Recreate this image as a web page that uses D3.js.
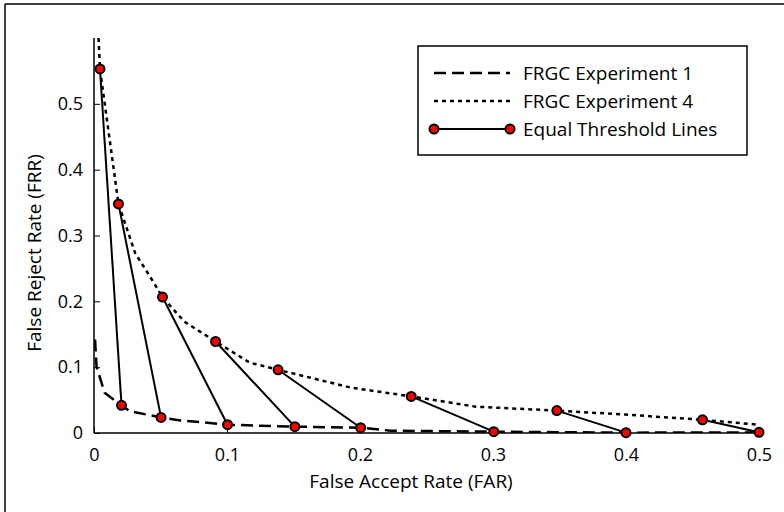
<!DOCTYPE html>
<html>
<head>
<meta charset="utf-8">
<script src="https://cdn.jsdelivr.net/npm/d3@7"></script>
<style>
  body { margin: 0; background: #fff; }
  text { font-family: "Open Sans", sans-serif; fill: #000; }
</style>
</head>
<body>
<script>
// FRGC Experiment 1 (dashed curve): [FAR, FRR]
const exp1 = [
  [0.0008, 0.142], [0.0019, 0.101], [0.008, 0.061], [0.0207, 0.042],
  [0.027, 0.033], [0.0504, 0.0237], [0.065, 0.019], [0.0835, 0.016],
  [0.1004, 0.0126], [0.151, 0.0096], [0.2005, 0.008], [0.223, 0.0035],
  [0.3006, 0.002], [0.4, 0.0005], [0.5, 0.001]
];
// FRGC Experiment 4 (dotted curve)
const exp4 = [
  [0.0034, 0.6], [0.0045, 0.553], [0.0184, 0.348], [0.031, 0.273],
  [0.042, 0.238], [0.0515, 0.2065], [0.068, 0.169], [0.0914, 0.139],
  [0.117, 0.107], [0.1384, 0.096], [0.193, 0.069], [0.2385, 0.0556],
  [0.287, 0.04], [0.348, 0.034], [0.3995, 0.028], [0.4575, 0.02], [0.5, 0.0126]
];
// equal threshold lines: [exp4 point, exp1 point]
const thresholds = [
  [[0.0045, 0.553], [0.0207, 0.042]],
  [[0.0184, 0.348], [0.0504, 0.0237]],
  [[0.0515, 0.2065], [0.1004, 0.0126]],
  [[0.0914, 0.139], [0.151, 0.0096]],
  [[0.1384, 0.096], [0.2005, 0.008]],
  [[0.2385, 0.0556], [0.3006, 0.002]],
  [[0.348, 0.034], [0.4, 0.0005]],
  [[0.4575, 0.02], [0.5, 0.001]]
];
const xTicks = [0, 0.1, 0.2, 0.3, 0.4, 0.5];
const yTicks = [0, 0.1, 0.2, 0.3, 0.4, 0.5];
const legendLabels = ["FRGC Experiment 1", "FRGC Experiment 4", "Equal Threshold Lines"];

const width = 784, height = 512;
const margin = { top: 38, right: 25, bottom: 79, left: 94 };

const svg = d3.select("body").append("svg")
  .attr("width", width)
  .attr("height", height);

// figure frame (only top and left edges visible)
svg.append("line").attr("x1", 5).attr("y1", 4).attr("x2", width).attr("y2", 4)
  .attr("stroke", "#000").attr("stroke-width", 1.5);
svg.append("line").attr("x1", 5).attr("y1", 4).attr("x2", 5).attr("y2", height)
  .attr("stroke", "#000").attr("stroke-width", 1.5);

const x = d3.scaleLinear().domain([0, 0.5]).range([margin.left, width - margin.right]);
const y = d3.scaleLinear().domain([0, 0.6]).range([height - margin.bottom, margin.top]);

svg.append("defs").append("clipPath").attr("id", "plot-clip")
  .append("rect")
  .attr("x", margin.left).attr("y", margin.top)
  .attr("width", x(0.5) - margin.left).attr("height", y(0) - margin.top);

const fmt = d => d === 0 ? "0" : d3.format(".1f")(d);

// axes
const xAxis = svg.append("g")
  .attr("transform", `translate(0,${y(0)})`)
  .call(d3.axisBottom(x).tickValues(xTicks).tickSize(-6).tickPadding(15).tickFormat(fmt));
const yAxis = svg.append("g")
  .attr("transform", `translate(${x(0)},0)`)
  .call(d3.axisLeft(y).tickValues(yTicks).tickSize(-6).tickPadding(11).tickFormat(fmt));

[xAxis, yAxis].forEach(a => {
  a.attr("font-size", null).attr("font-family", null);
  a.select(".domain").attr("stroke", "#000").attr("stroke-width", 1.5);
  a.selectAll(".tick line").attr("stroke", "#000").attr("stroke-width", 1);
  a.selectAll(".tick text").style("font-size", "18px");
});
// left axis spans the full domain up to 0.6, no end caps
yAxis.select(".domain").attr("d", `M0,${y(0)}V${y(0.6)}`);
xAxis.select(".domain").attr("d", `M${x(0)},0H${x(0.5)}`);

svg.append("text")
  .attr("x", 411)
  .attr("y", 488)
  .attr("text-anchor", "middle")
  .style("font-size", "19px")
  .text("False Accept Rate (FAR)");

svg.append("text")
  .attr("transform", "translate(41,253) rotate(-90)")
  .attr("text-anchor", "middle")
  .style("font-size", "19px")
  .text("False Reject Rate (FRR)");

const line = d3.line().x(d => x(d[0])).y(d => y(d[1]));
const plot = svg.append("g").attr("clip-path", "url(#plot-clip)");

plot.append("path").datum(exp1)
  .attr("d", line).attr("fill", "none").attr("stroke", "#000")
  .attr("stroke-width", 2.5).attr("stroke-dasharray", "12,6");

plot.append("path").datum(exp4)
  .attr("d", line).attr("fill", "none").attr("stroke", "#000")
  .attr("stroke-width", 2.5).attr("stroke-dasharray", "4,4");

const marks = svg.append("g");
marks.selectAll("path.thr").data(thresholds).join("path")
  .attr("class", "thr")
  .attr("d", line).attr("fill", "none").attr("stroke", "#000").attr("stroke-width", 2);

marks.selectAll("circle").data(thresholds.flat()).join("circle")
  .attr("cx", d => x(d[0])).attr("cy", d => y(d[1])).attr("r", 4.5)
  .attr("fill", "#ff0000").attr("stroke", "#000").attr("stroke-width", 2);

// legend
const lg = svg.append("g");
lg.append("rect").attr("x", 418).attr("y", 46).attr("width", 329).attr("height", 109)
  .attr("fill", "#fff").attr("stroke", "#000").attr("stroke-width", 1.5);

const rowY = [73, 101, 129];
const styles = [
  { dash: "12,6", w: 2.5 },
  { dash: "4,4", w: 2.5 },
  { dash: null, w: 2 }
];
legendLabels.forEach((label, i) => {
  lg.append("line")
    .attr("x1", 434).attr("x2", 510).attr("y1", rowY[i]).attr("y2", rowY[i])
    .attr("stroke", "#000").attr("stroke-width", styles[i].w)
    .attr("stroke-dasharray", styles[i].dash);
  if (i === 2) {
    [434, 510].forEach(cx => lg.append("circle")
      .attr("cx", cx).attr("cy", rowY[i]).attr("r", 4.5)
      .attr("fill", "#ff0000").attr("stroke", "#000").attr("stroke-width", 2));
  }
  lg.append("text")
    .attr("x", 523).attr("y", rowY[i])
    .attr("dy", "0.35em")
    .style("font-size", "19px")
    .text(label);
});
</script>
</body>
</html>
